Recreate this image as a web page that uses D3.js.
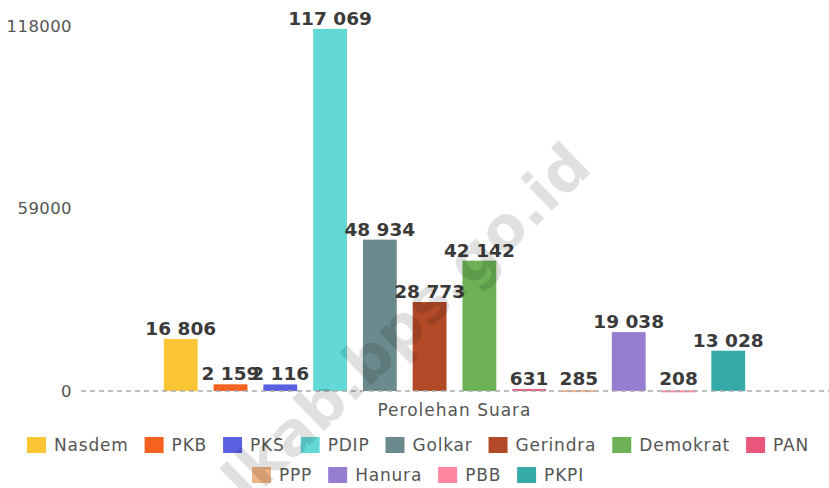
<!DOCTYPE html>
<html lang="id">
<head>
<meta charset="UTF-8">
<title>Perolehan Suara</title>
<script src="https://d3js.org/d3.v7.min.js"></script>
<style>
  body { margin: 0; background: #ffffff; font-family: "DejaVu Sans", sans-serif; }
  .tick-label { font-size: 16.5px; fill: #555; letter-spacing: 0.4px; }
  .cat-label { font-size: 17px; fill: #555; letter-spacing: 1px; }
  .value-label { font-size: 18.5px; font-weight: bold; fill: #3a3a3a; }
  .legend text { font-size: 17px; fill: #555; letter-spacing: 0.8px; }
</style>
</head>
<body>
<div id="chart"></div>
<script>
// data
const categories = ["Perolehan Suara"];
const parties = ["Nasdem", "PKB", "PKS", "PDIP", "Golkar", "Gerindra", "Demokrat", "PAN", "PPP", "Hanura", "PBB", "PKPI"];
const votes = [16806, 2159, 2116, 117069, 48934, 28773, 42142, 631, 285, 19038, 208, 13028];
const colors = ["#fcc534", "#f5621f", "#5b5fe2", "#62d9d7", "#6a8a8d", "#b24a28", "#6cb155", "#e8577b", "#f2b486", "#977dd0", "#fd86a0", "#36aca9"];
const yTicks = [0, 59000, 118000];
const legendRows = [["Nasdem", "PKB", "PKS", "PDIP", "Golkar", "Gerindra", "Demokrat", "PAN"], ["PPP", "Hanura", "PBB", "PKPI"]];

const W = 829, H = 488;
const svg = d3.select("#chart").append("svg").attr("width", W).attr("height", H);

const x0 = d3.scaleBand().domain(categories).range([80, 829]).paddingInner(0).paddingOuter(0.127);
const x1 = d3.scaleBand().domain(parties).range([0, x0.bandwidth()]).paddingInner(0.32).paddingOuter(0.16);
const y = d3.scaleLinear().domain([0, 118000]).range([391, 26]);
const color = d3.scaleOrdinal().domain(parties).range(colors);
const fmt = v => d3.format(",")(v).replace(/,/g, " ");

// y tick labels, no axis line
svg.append("g").selectAll("text").data(yTicks).join("text")
  .attr("class", "tick-label")
  .attr("x", 72).attr("y", d => y(d)).attr("dy", "0.35em")
  .attr("text-anchor", "end")
  .text(d => d);

// bars
const group = svg.append("g").attr("transform", `translate(${x0(categories[0])},0)`);
const rows = parties.map((p, i) => ({ party: p, value: votes[i] }));
group.selectAll("rect").data(rows).join("rect")
  .attr("x", d => x1(d.party))
  .attr("y", d => y(d.value))
  .attr("width", x1.bandwidth())
  .attr("height", d => Math.max(2, y(0) - y(d.value)))
  .attr("fill", d => color(d.party));

// dashed baseline
svg.append("line")
  .attr("x1", 81).attr("x2", W).attr("y1", y(0)).attr("y2", y(0))
  .attr("stroke", "#aaa").attr("stroke-width", 1.5).attr("stroke-dasharray", "5,4");

// value labels
group.selectAll(".value-label").data(rows).join("text")
  .attr("class", "value-label")
  .attr("x", d => x1(d.party) + x1.bandwidth() / 2)
  .attr("y", d => Math.min(y(d.value), y(0) - 2) - 4)
  .attr("text-anchor", "middle")
  .text(d => fmt(d.value));

// category label
svg.append("text")
  .attr("class", "cat-label")
  .attr("x", x0(categories[0]) + x0.bandwidth() / 2).attr("y", 410)
  .attr("dy", "0.35em").attr("text-anchor", "middle")
  .text(categories[0]);

// legend, rows centred
const legend = svg.append("g").attr("class", "legend");
const rowY = [445, 475];
legendRows.forEach((row, r) => {
  const g = legend.append("g");
  let cx = 0;
  row.forEach(name => {
    const item = g.append("g").attr("transform", `translate(${cx},0)`);
    item.append("rect").attr("x", 0).attr("y", -8).attr("width", 19).attr("height", 16)
      .attr("fill", color(name));
    const t = item.append("text").attr("x", 27).attr("dy", "0.35em").text(name);
    cx += 27 + t.node().getComputedTextLength() + 16;
  });
  const total = cx - 16;
  g.attr("transform", `translate(${418 - total / 2},${rowY[r]})`);
});

// watermark
svg.append("text")
  .attr("transform", "translate(594,170) rotate(-44)")
  .attr("text-anchor", "end")
  .style("font-size", "60px").style("font-weight", "bold")
  .attr("fill", "#000").attr("fill-opacity", 0.12)
  .text("alkab.bps.go.id");
</script>
</body>
</html>
